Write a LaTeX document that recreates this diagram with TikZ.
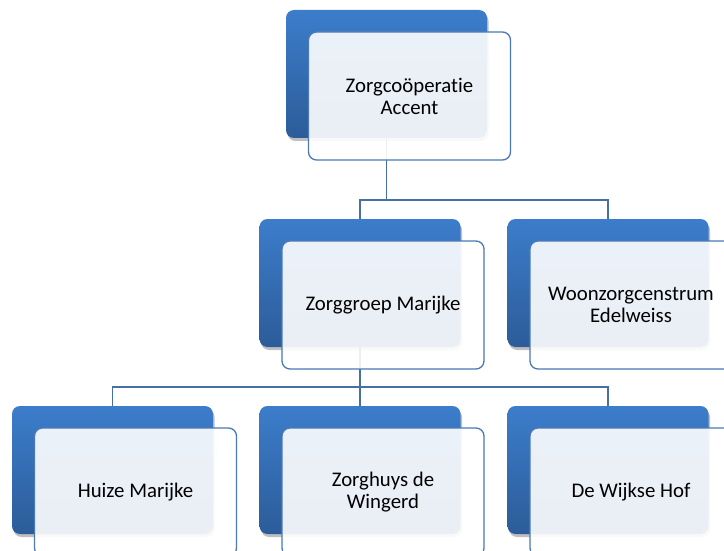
\documentclass[tikz,border=0pt]{standalone}
\usepackage{fontspec}
\setmainfont{Carlito}[Ligatures=NoCommon]
\usetikzlibrary{shadows}
\definecolor{boxtop}{HTML}{3C7DCB}
\definecolor{boxbot}{HTML}{2C5C99}
\definecolor{edge}{HTML}{4A79B4}
\definecolor{conncol}{HTML}{4470A6}
\tikzset{
  darkbox/.style={rounded corners=8pt, minimum width=201pt, minimum height=128pt,
    top color=boxtop, bottom color=boxbot, draw=none, inner sep=0pt,
    drop shadow={shadow xshift=1.5pt, shadow yshift=-3pt, opacity=0.25, fill=black}},
  frontbox/.style={rounded corners=8pt, minimum width=202pt, minimum height=128pt,
    draw=edge, line width=1.3pt, fill=white, fill opacity=0.9, text opacity=1,
    align=center, inner sep=2pt, font=\fontsize{20.8}{22}\selectfont, text=black},
  conn/.style={draw=conncol, line width=1.6pt}
}
\begin{document}
\begin{tikzpicture}[x=1pt,y=-1pt]
\useasboundingbox (0,0) rectangle (724,551);
\clip (0,0) rectangle (724,551);
% connector junctions
\coordinate (b1) at (386.5,200);
\coordinate (b2) at (360,387);
% placeholders for box anchors
\path (386.5,74) node[minimum width=201pt, minimum height=128pt] (p1) {};
\path (360,283) node[minimum width=201pt, minimum height=128pt] (p2) {};
\path (608,283) node[minimum width=201pt, minimum height=128pt] (p3) {};
\path (112.5,470) node[minimum width=201pt, minimum height=128pt] (p4) {};
\path (360,470) node[minimum width=201pt, minimum height=128pt] (p5) {};
\path (608,470) node[minimum width=201pt, minimum height=128pt] (p6) {};
% connectors
\draw[conn] (p1.south) -- (b1);
\draw[conn] (p2.north) |- (b1);
\draw[conn] (p3.north) |- (b1);
\draw[conn] (p2.south) -- (b2);
\draw[conn] (p4.north) |- (b2);
\draw[conn] (p5.north) -- (b2);
\draw[conn] (p6.north) |- (b2);
% dark boxes
\node[darkbox] (d1) at (p1) {};
\node[darkbox] (d2) at (p2) {};
\node[darkbox] (d3) at (p3) {};
\node[darkbox] (d4) at (p4) {};
\node[darkbox] (d5) at (p5) {};
\node[darkbox] (d6) at (p6) {};
% front boxes
\node[frontbox] (f1) at (409.5,96) {Zorgcoöperatie\\Accent};
\node[frontbox] (f2) at (383,305) {Zorggroep Marijke};
\node[frontbox] (f3) at (631,305) {Woonzorgcenstrum\\Edelweiss};
\node[frontbox] (f4) at (135.5,492) {Huize Marijke};
\node[frontbox] (f5) at (383,492) {Zorghuys de\\Wingerd};
\node[frontbox] (f6) at (631,492) {De Wijkse Hof};
\end{tikzpicture}
\end{document}
